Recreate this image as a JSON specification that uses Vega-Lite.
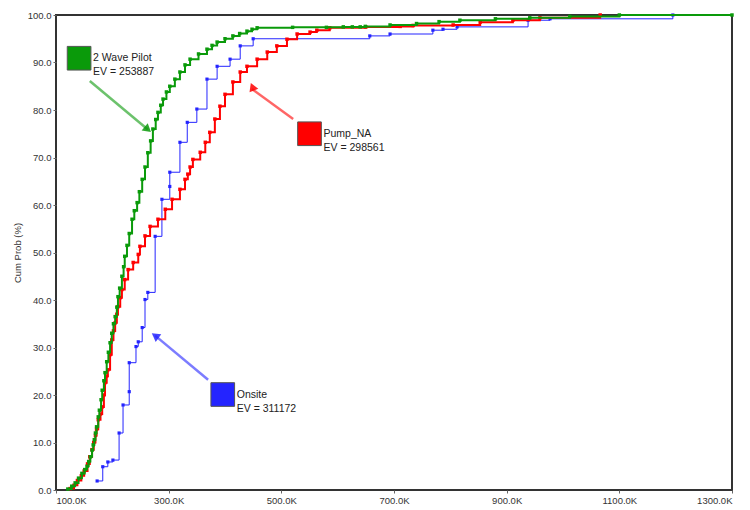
{
  "$schema": "https://vega.github.io/schema/vega-lite/v6.json",
  "width": 676,
  "height": 475,
  "autosize": {"type": "none"},
  "padding": {"left": 56, "top": 15, "right": 18, "bottom": 20},
  "background": "white",
  "config": {
    "view": {"stroke": "#333333", "strokeWidth": 2},
    "font": "Liberation Sans",
    "axis": {"grid": false, "domain": false, "tickColor": "#666666", "tickSize": 3, "labelFontSize": 9.5, "labelColor": "#333333", "titleFontSize": 9.5, "titleFontWeight": "normal", "titleColor": "#333333"}
  },
  "datasets": {
    "curves": [
      {"series": "2 Wave Pilot", "x": 121, "p": 0.2}, {"series": "2 Wave Pilot", "x": 128, "p": 0.8}, {"series": "2 Wave Pilot", "x": 134, "p": 1.5}, {"series": "2 Wave Pilot", "x": 140, "p": 2.5}, {"series": "2 Wave Pilot", "x": 146, "p": 3.5}, {"series": "2 Wave Pilot", "x": 151, "p": 4.3}, {"series": "2 Wave Pilot", "x": 155, "p": 5}, {"series": "2 Wave Pilot", "x": 158, "p": 6}, {"series": "2 Wave Pilot", "x": 161, "p": 7}, {"series": "2 Wave Pilot", "x": 164, "p": 8.4}, {"series": "2 Wave Pilot", "x": 166, "p": 9.5}, {"series": "2 Wave Pilot", "x": 168, "p": 10.6}, {"series": "2 Wave Pilot", "x": 170, "p": 12}, {"series": "2 Wave Pilot", "x": 172, "p": 13.3}, {"series": "2 Wave Pilot", "x": 175, "p": 15.4}, {"series": "2 Wave Pilot", "x": 177, "p": 16.8}, {"series": "2 Wave Pilot", "x": 180, "p": 19}, {"series": "2 Wave Pilot", "x": 182, "p": 21}, {"series": "2 Wave Pilot", "x": 185, "p": 23}, {"series": "2 Wave Pilot", "x": 187, "p": 24.7}, {"series": "2 Wave Pilot", "x": 190, "p": 27}, {"series": "2 Wave Pilot", "x": 193, "p": 29}, {"series": "2 Wave Pilot", "x": 196, "p": 31}, {"series": "2 Wave Pilot", "x": 199, "p": 33}, {"series": "2 Wave Pilot", "x": 202, "p": 35}, {"series": "2 Wave Pilot", "x": 205, "p": 36.5}, {"series": "2 Wave Pilot", "x": 208, "p": 38.5}, {"series": "2 Wave Pilot", "x": 210, "p": 40.7}, {"series": "2 Wave Pilot", "x": 213, "p": 42.5}, {"series": "2 Wave Pilot", "x": 217, "p": 45}, {"series": "2 Wave Pilot", "x": 220, "p": 47}, {"series": "2 Wave Pilot", "x": 222, "p": 49.2}, {"series": "2 Wave Pilot", "x": 226, "p": 51.5}, {"series": "2 Wave Pilot", "x": 230, "p": 54}, {"series": "2 Wave Pilot", "x": 235, "p": 57}, {"series": "2 Wave Pilot", "x": 239, "p": 58.8}, {"series": "2 Wave Pilot", "x": 244, "p": 60.5}, {"series": "2 Wave Pilot", "x": 248, "p": 62.8}, {"series": "2 Wave Pilot", "x": 253, "p": 65.4}, {"series": "2 Wave Pilot", "x": 258, "p": 68}, {"series": "2 Wave Pilot", "x": 263, "p": 71}, {"series": "2 Wave Pilot", "x": 268, "p": 73.5}, {"series": "2 Wave Pilot", "x": 272, "p": 76}, {"series": "2 Wave Pilot", "x": 277, "p": 78}, {"series": "2 Wave Pilot", "x": 281, "p": 79.5}, {"series": "2 Wave Pilot", "x": 286, "p": 81}, {"series": "2 Wave Pilot", "x": 290, "p": 82.3}, {"series": "2 Wave Pilot", "x": 296, "p": 83.8}, {"series": "2 Wave Pilot", "x": 302, "p": 85}, {"series": "2 Wave Pilot", "x": 311, "p": 86.5}, {"series": "2 Wave Pilot", "x": 320, "p": 88}, {"series": "2 Wave Pilot", "x": 329, "p": 89.5}, {"series": "2 Wave Pilot", "x": 338, "p": 90.7}, {"series": "2 Wave Pilot", "x": 353, "p": 91.8}, {"series": "2 Wave Pilot", "x": 368, "p": 92.8}, {"series": "2 Wave Pilot", "x": 377, "p": 93.6}, {"series": "2 Wave Pilot", "x": 386, "p": 94.3}, {"series": "2 Wave Pilot", "x": 400, "p": 95}, {"series": "2 Wave Pilot", "x": 414, "p": 95.6}, {"series": "2 Wave Pilot", "x": 426, "p": 96.1}, {"series": "2 Wave Pilot", "x": 439, "p": 96.6}, {"series": "2 Wave Pilot", "x": 448, "p": 97}, {"series": "2 Wave Pilot", "x": 457, "p": 97.3}, {"series": "2 Wave Pilot", "x": 520, "p": 97.4}, {"series": "2 Wave Pilot", "x": 580, "p": 97.4}, {"series": "2 Wave Pilot", "x": 610, "p": 97.5}, {"series": "2 Wave Pilot", "x": 626, "p": 97.5}, {"series": "2 Wave Pilot", "x": 640, "p": 97.5}, {"series": "2 Wave Pilot", "x": 649, "p": 97.6}, {"series": "2 Wave Pilot", "x": 693, "p": 97.9}, {"series": "2 Wave Pilot", "x": 740, "p": 98.2}, {"series": "2 Wave Pilot", "x": 780, "p": 98.6}, {"series": "2 Wave Pilot", "x": 817, "p": 98.9}, {"series": "2 Wave Pilot", "x": 880, "p": 99.2}, {"series": "2 Wave Pilot", "x": 941, "p": 99.4}, {"series": "2 Wave Pilot", "x": 1012, "p": 99.7}, {"series": "2 Wave Pilot", "x": 1100, "p": 100}, {"series": "2 Wave Pilot", "x": 1300, "p": 100},
      {"series": "Pump_NA", "x": 125, "p": 0.3}, {"series": "Pump_NA", "x": 132, "p": 1}, {"series": "Pump_NA", "x": 138, "p": 2}, {"series": "Pump_NA", "x": 145, "p": 3}, {"series": "Pump_NA", "x": 150, "p": 4}, {"series": "Pump_NA", "x": 156, "p": 5.5}, {"series": "Pump_NA", "x": 160, "p": 7}, {"series": "Pump_NA", "x": 164, "p": 8.5}, {"series": "Pump_NA", "x": 167, "p": 10}, {"series": "Pump_NA", "x": 170, "p": 11.5}, {"series": "Pump_NA", "x": 172, "p": 12.8}, {"series": "Pump_NA", "x": 175, "p": 14.8}, {"series": "Pump_NA", "x": 179, "p": 16}, {"series": "Pump_NA", "x": 182, "p": 17.5}, {"series": "Pump_NA", "x": 185, "p": 20}, {"series": "Pump_NA", "x": 187, "p": 22.6}, {"series": "Pump_NA", "x": 190, "p": 24}, {"series": "Pump_NA", "x": 192, "p": 25.3}, {"series": "Pump_NA", "x": 196, "p": 28.5}, {"series": "Pump_NA", "x": 199, "p": 31.6}, {"series": "Pump_NA", "x": 202, "p": 33.5}, {"series": "Pump_NA", "x": 205, "p": 35.2}, {"series": "Pump_NA", "x": 208, "p": 37}, {"series": "Pump_NA", "x": 210, "p": 38.6}, {"series": "Pump_NA", "x": 214, "p": 40.5}, {"series": "Pump_NA", "x": 217, "p": 42.2}, {"series": "Pump_NA", "x": 222, "p": 44.3}, {"series": "Pump_NA", "x": 228, "p": 46.4}, {"series": "Pump_NA", "x": 237, "p": 47.9}, {"series": "Pump_NA", "x": 246, "p": 49.6}, {"series": "Pump_NA", "x": 249, "p": 51.3}, {"series": "Pump_NA", "x": 258, "p": 53.5}, {"series": "Pump_NA", "x": 267, "p": 55.5}, {"series": "Pump_NA", "x": 281, "p": 57}, {"series": "Pump_NA", "x": 294, "p": 59.1}, {"series": "Pump_NA", "x": 306, "p": 61.2}, {"series": "Pump_NA", "x": 320, "p": 63.3}, {"series": "Pump_NA", "x": 329, "p": 65.4}, {"series": "Pump_NA", "x": 334, "p": 66.5}, {"series": "Pump_NA", "x": 338, "p": 68}, {"series": "Pump_NA", "x": 343, "p": 69.6}, {"series": "Pump_NA", "x": 356, "p": 71.1}, {"series": "Pump_NA", "x": 365, "p": 73.2}, {"series": "Pump_NA", "x": 373, "p": 75.3}, {"series": "Pump_NA", "x": 382, "p": 78.1}, {"series": "Pump_NA", "x": 391, "p": 80.8}, {"series": "Pump_NA", "x": 400, "p": 83.3}, {"series": "Pump_NA", "x": 414, "p": 85.9}, {"series": "Pump_NA", "x": 427, "p": 88}, {"series": "Pump_NA", "x": 439, "p": 89.2}, {"series": "Pump_NA", "x": 457, "p": 90.7}, {"series": "Pump_NA", "x": 475, "p": 92.2}, {"series": "Pump_NA", "x": 492, "p": 93.5}, {"series": "Pump_NA", "x": 510, "p": 94.9}, {"series": "Pump_NA", "x": 528, "p": 96}, {"series": "Pump_NA", "x": 551, "p": 96.4}, {"series": "Pump_NA", "x": 563, "p": 96.8}, {"series": "Pump_NA", "x": 586, "p": 97.3}, {"series": "Pump_NA", "x": 650, "p": 97.5}, {"series": "Pump_NA", "x": 711, "p": 97.6}, {"series": "Pump_NA", "x": 734, "p": 97.8}, {"series": "Pump_NA", "x": 805, "p": 97.9}, {"series": "Pump_NA", "x": 853, "p": 98.5}, {"series": "Pump_NA", "x": 911, "p": 98.9}, {"series": "Pump_NA", "x": 959, "p": 99.4}, {"series": "Pump_NA", "x": 1066, "p": 100},
      {"series": "Onsite", "x": 173, "p": 1.9}, {"series": "Onsite", "x": 183, "p": 4.9}, {"series": "Onsite", "x": 192, "p": 5.9}, {"series": "Onsite", "x": 201, "p": 6.3}, {"series": "Onsite", "x": 212, "p": 12}, {"series": "Onsite", "x": 219, "p": 17.9}, {"series": "Onsite", "x": 230, "p": 20.7}, {"series": "Onsite", "x": 230, "p": 26.8}, {"series": "Onsite", "x": 242, "p": 30.2}, {"series": "Onsite", "x": 246, "p": 31.2}, {"series": "Onsite", "x": 253, "p": 34.2}, {"series": "Onsite", "x": 258, "p": 40.1}, {"series": "Onsite", "x": 263, "p": 41.6}, {"series": "Onsite", "x": 276, "p": 53.4}, {"series": "Onsite", "x": 288, "p": 61.2}, {"series": "Onsite", "x": 302, "p": 63.9}, {"series": "Onsite", "x": 302, "p": 66.9}, {"series": "Onsite", "x": 320, "p": 73.2}, {"series": "Onsite", "x": 333, "p": 77.4}, {"series": "Onsite", "x": 350, "p": 80.2}, {"series": "Onsite", "x": 368, "p": 86.5}, {"series": "Onsite", "x": 386, "p": 89.2}, {"series": "Onsite", "x": 409, "p": 90.7}, {"series": "Onsite", "x": 427, "p": 93.5}, {"series": "Onsite", "x": 450, "p": 95}, {"series": "Onsite", "x": 657, "p": 95.6}, {"series": "Onsite", "x": 693, "p": 96}, {"series": "Onsite", "x": 769, "p": 96.8}, {"series": "Onsite", "x": 787, "p": 97}, {"series": "Onsite", "x": 812, "p": 97.5}, {"series": "Onsite", "x": 938, "p": 98.9}, {"series": "Onsite", "x": 977, "p": 99.2}, {"series": "Onsite", "x": 1195, "p": 100}
    ],
    "labels": [
      {"series": "2 Wave Pilot", "x": 141, "p": 90.9, "label": "2 Wave Pilot\nEV = 253887"},
      {"series": "Pump_NA", "x": 550, "p": 75, "label": "Pump_NA\nEV = 298561"},
      {"series": "Onsite", "x": 396, "p": 20.1, "label": "Onsite\nEV = 311172"}
    ],
    "arrows": [
      {"series": "2 Wave Pilot", "x": 160, "p": 86.1, "x2": 263, "p2": 75.9},
      {"series": "Pump_NA", "x": 521, "p": 78.1, "x2": 448, "p2": 84.4},
      {"series": "Onsite", "x": 370, "p": 23.2, "x2": 276, "p2": 32.5}
    ]
  },
  "encoding": {
    "x": {"field": "x", "type": "quantitative", "scale": {"domain": [100, 1300], "nice": false, "zero": false},
      "axis": {"title": null, "values": [100, 300, 500, 700, 900, 1100, 1300], "labelExpr": "format(datum.value, '.1f') + 'K'", "labelPadding": 2}},
    "y": {"field": "p", "type": "quantitative", "scale": {"domain": [0, 100], "nice": false},
      "axis": {"title": "Cum Prob (%)", "values": [0, 10, 20, 30, 40, 50, 60, 70, 80, 90, 100], "format": ".1f", "labelPadding": 2, "titlePadding": 5}},
    "color": {"field": "series", "type": "nominal", "legend": null,
      "scale": {"domain": ["2 Wave Pilot", "Pump_NA", "Onsite"], "range": ["#0a9a0a", "#ff0000", "#2424ff"]}}
  },
  "layer": [
    {
      "data": {"name": "arrows"},
      "mark": {"type": "rule", "strokeWidth": 2.5, "opacity": 0.6},
      "encoding": {"x2": {"field": "x2"}, "y2": {"field": "p2"}}
    },
    {
      "data": {"name": "arrows"},
      "mark": {"type": "point", "shape": "triangle-right", "filled": true, "size": 90, "opacity": 0.85},
      "encoding": {
        "x": {"field": "x2", "type": "quantitative"},
        "y": {"field": "p2", "type": "quantitative"},
        "angle": {"field": "series", "type": "nominal", "legend": null, "scale": {"domain": ["2 Wave Pilot", "Pump_NA", "Onsite"], "range": [40, 216, 220]}}
      }
    },
    {
      "data": {"name": "curves"},
      "transform": [{"filter": "datum.series === 'Onsite'"}],
      "mark": {"type": "line", "interpolate": "step-after", "strokeWidth": 1, "point": {"filled": true, "size": 10, "shape": "square"}}
    },
    {
      "data": {"name": "curves"},
      "transform": [{"filter": "datum.series === 'Pump_NA'"}],
      "mark": {"type": "line", "interpolate": "step-after", "strokeWidth": 2, "point": {"filled": true, "size": 12, "shape": "square"}}
    },
    {
      "data": {"name": "curves"},
      "transform": [{"filter": "datum.series === '2 Wave Pilot'"}],
      "mark": {"type": "line", "interpolate": "step-after", "strokeWidth": 2, "point": {"filled": true, "size": 12, "shape": "square"}}
    },
    {
      "data": {"name": "labels"},
      "mark": {"type": "point", "shape": "square", "filled": true, "size": 560, "opacity": 1, "stroke": "#555555", "strokeWidth": 1}
    },
    {
      "data": {"name": "labels"},
      "mark": {"type": "text", "align": "left", "baseline": "middle", "dx": 14, "fontSize": 10.5, "lineBreak": "\n", "lineHeight": 14, "color": "#222222"},
      "encoding": {"text": {"field": "label"}, "color": {"value": "#222222"}}
    }
  ]
}
